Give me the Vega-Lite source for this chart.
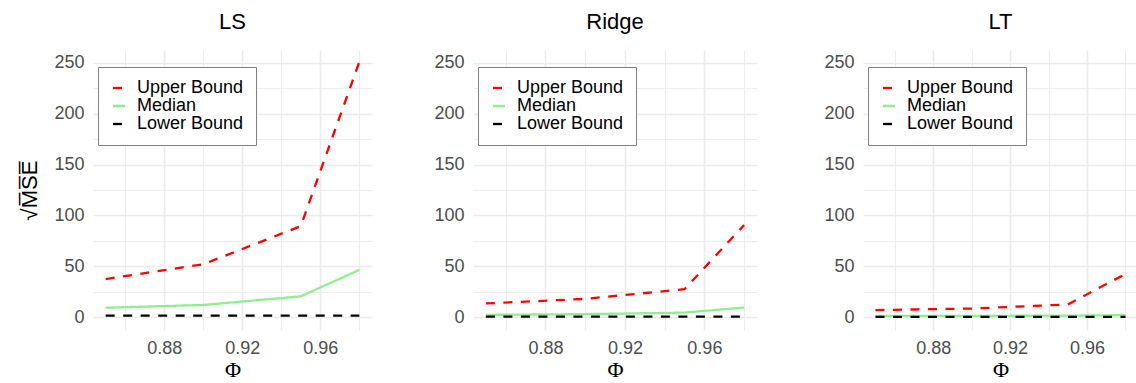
{
  "$schema": "https://vega.github.io/schema/vega-lite/v6.json",
  "background": "white",
  "padding": {"left": 18, "top": 11, "right": 0, "bottom": 0},
  "autosize": {"type": "pad"},
  "config": {
    "font": "Liberation Sans",
    "view": {"stroke": null},
    "axis": {"domain": false, "ticks": false, "gridColor": "#EBEBEB", "labelColor": "#4D4D4D", "labelFontSize": 18, "labelFont": "Liberation Sans", "titleColor": "black", "titleFontWeight": "normal"},
    "title": {"fontSize": 22, "fontWeight": "normal", "color": "black", "font": "Liberation Sans", "offset": 16, "anchor": "middle"},
    "concat": {"spacing": 61},
    "legend": {"title": null, "orient": "none", "legendX": 5, "legendY": 17, "padding": 12, "strokeColor": "#808080", "fillColor": "white", "labelFontSize": 18, "labelColor": "black", "labelFont": "Liberation Sans", "symbolType": "stroke", "symbolSize": 144, "symbolStrokeWidth": 2.3, "rowPadding": -3, "labelOffset": 9, "cornerRadius": 0}
  },
  "data": {"values": [
    {"panel": "LS", "series": "Upper Bound", "phi": 0.85, "value": 37.5},
    {"panel": "LS", "series": "Upper Bound", "phi": 0.90, "value": 52},
    {"panel": "LS", "series": "Upper Bound", "phi": 0.95, "value": 89.5},
    {"panel": "LS", "series": "Upper Bound", "phi": 0.98, "value": 251},
    {"panel": "LS", "series": "Median", "phi": 0.85, "value": 9.3},
    {"panel": "LS", "series": "Median", "phi": 0.90, "value": 12},
    {"panel": "LS", "series": "Median", "phi": 0.95, "value": 20.5},
    {"panel": "LS", "series": "Median", "phi": 0.98, "value": 46.5},
    {"panel": "LS", "series": "Lower Bound", "phi": 0.85, "value": 1.5},
    {"panel": "LS", "series": "Lower Bound", "phi": 0.90, "value": 1.5},
    {"panel": "LS", "series": "Lower Bound", "phi": 0.95, "value": 1.5},
    {"panel": "LS", "series": "Lower Bound", "phi": 0.98, "value": 1.5},
    {"panel": "Ridge", "series": "Upper Bound", "phi": 0.85, "value": 13.5},
    {"panel": "Ridge", "series": "Upper Bound", "phi": 0.90, "value": 18},
    {"panel": "Ridge", "series": "Upper Bound", "phi": 0.95, "value": 27.5},
    {"panel": "Ridge", "series": "Upper Bound", "phi": 0.98, "value": 90.5},
    {"panel": "Ridge", "series": "Median", "phi": 0.85, "value": 2.3},
    {"panel": "Ridge", "series": "Median", "phi": 0.90, "value": 3},
    {"panel": "Ridge", "series": "Median", "phi": 0.95, "value": 4.5},
    {"panel": "Ridge", "series": "Median", "phi": 0.98, "value": 9.5},
    {"panel": "Ridge", "series": "Lower Bound", "phi": 0.85, "value": 0.5},
    {"panel": "Ridge", "series": "Lower Bound", "phi": 0.90, "value": 0.5},
    {"panel": "Ridge", "series": "Lower Bound", "phi": 0.95, "value": 0.5},
    {"panel": "Ridge", "series": "Lower Bound", "phi": 0.98, "value": 0.5},
    {"panel": "LT", "series": "Upper Bound", "phi": 0.85, "value": 7},
    {"panel": "LT", "series": "Upper Bound", "phi": 0.90, "value": 8.5},
    {"panel": "LT", "series": "Upper Bound", "phi": 0.95, "value": 12.5},
    {"panel": "LT", "series": "Upper Bound", "phi": 0.98, "value": 42.5},
    {"panel": "LT", "series": "Median", "phi": 0.85, "value": 1.2},
    {"panel": "LT", "series": "Median", "phi": 0.90, "value": 1.3},
    {"panel": "LT", "series": "Median", "phi": 0.95, "value": 1.5},
    {"panel": "LT", "series": "Median", "phi": 0.98, "value": 2},
    {"panel": "LT", "series": "Lower Bound", "phi": 0.85, "value": 0.3},
    {"panel": "LT", "series": "Lower Bound", "phi": 0.90, "value": 0.3},
    {"panel": "LT", "series": "Lower Bound", "phi": 0.95, "value": 0.3},
    {"panel": "LT", "series": "Lower Bound", "phi": 0.98, "value": 0.3}
  ]},
  "resolve": {"legend": {"color": "independent", "strokeDash": "independent"}, "scale": {"color": "independent", "strokeDash": "independent", "x": "independent", "y": "independent"}},
  "hconcat": [
    {
      "width": 279, "height": 280,
      "title": "LS",
      "transform": [{"filter": "datum.panel === 'LS'"}],
      "mark": {"type": "line", "strokeWidth": 2.3, "clip": true},
      "encoding": {
        "x": {"field": "phi", "type": "quantitative", "scale": {"domain": [0.8435, 0.9865], "nice": false, "zero": false},
          "axis": {"title": "Φ", "titleFont": "Liberation Serif", "titleFontSize": 22, "titlePadding": 2, "labelPadding": 9, "values": [0.86, 0.88, 0.90, 0.92, 0.94, 0.96, 0.98], "labelExpr": "round(datum.value*100) % 4 === 0 ? format(datum.value, '.2f') : ''", "gridWidth": {"condition": {"test": "round(datum.value*100) % 4 === 0", "value": 1.6}, "value": 0.9}}},
        "y": {"field": "value", "type": "quantitative", "scale": {"domain": [-12.6, 262.6], "nice": false, "zero": false},
          "axis": {"title": "√M̅S̅E̅", "titleFontSize": 22, "titlePadding": 10, "labelPadding": 9, "minExtent": 42, "maxExtent": 42, "values": [0, 25, 50, 75, 100, 125, 150, 175, 200, 225, 250], "labelExpr": "datum.value % 50 === 0 ? datum.label : ''", "gridWidth": {"condition": {"test": "datum.value % 50 === 0", "value": 1.6}, "value": 0.9}}},
        "color": {"field": "series", "type": "nominal", "scale": {"domain": ["Upper Bound", "Median", "Lower Bound"], "range": ["#FF0000", "#90EE90", "#000000"]}},
        "strokeDash": {"field": "series", "type": "nominal", "scale": {"domain": ["Upper Bound", "Median", "Lower Bound"], "range": [[9, 8.5], [1, 0], [9, 8.5]]}}
      }
    },
    {
      "width": 284, "height": 280,
      "title": "Ridge",
      "transform": [{"filter": "datum.panel === 'Ridge'"}],
      "mark": {"type": "line", "strokeWidth": 2.3, "clip": true},
      "encoding": {
        "x": {"field": "phi", "type": "quantitative", "scale": {"domain": [0.8435, 0.9865], "nice": false, "zero": false},
          "axis": {"title": "Φ", "titleFont": "Liberation Serif", "titleFontSize": 22, "titlePadding": 2, "labelPadding": 9, "values": [0.86, 0.88, 0.90, 0.92, 0.94, 0.96, 0.98], "labelExpr": "round(datum.value*100) % 4 === 0 ? format(datum.value, '.2f') : ''", "gridWidth": {"condition": {"test": "round(datum.value*100) % 4 === 0", "value": 1.6}, "value": 0.9}}},
        "y": {"field": "value", "type": "quantitative", "scale": {"domain": [-12.6, 262.6], "nice": false, "zero": false},
          "axis": {"title": null, "labelPadding": 9, "minExtent": 39, "maxExtent": 39, "values": [0, 25, 50, 75, 100, 125, 150, 175, 200, 225, 250], "labelExpr": "datum.value % 50 === 0 ? datum.label : ''", "gridWidth": {"condition": {"test": "datum.value % 50 === 0", "value": 1.6}, "value": 0.9}}},
        "color": {"field": "series", "type": "nominal", "scale": {"domain": ["Upper Bound", "Median", "Lower Bound"], "range": ["#FF0000", "#90EE90", "#000000"]}},
        "strokeDash": {"field": "series", "type": "nominal", "scale": {"domain": ["Upper Bound", "Median", "Lower Bound"], "range": [[9, 8.5], [1, 0], [9, 8.5]]}}
      }
    },
    {
      "width": 275, "height": 280,
      "title": "LT",
      "transform": [{"filter": "datum.panel === 'LT'"}],
      "mark": {"type": "line", "strokeWidth": 2.3, "clip": true},
      "encoding": {
        "x": {"field": "phi", "type": "quantitative", "scale": {"domain": [0.8435, 0.9865], "nice": false, "zero": false},
          "axis": {"title": "Φ", "titleFont": "Liberation Serif", "titleFontSize": 22, "titlePadding": 2, "labelPadding": 9, "values": [0.86, 0.88, 0.90, 0.92, 0.94, 0.96, 0.98], "labelExpr": "round(datum.value*100) % 4 === 0 ? format(datum.value, '.2f') : ''", "gridWidth": {"condition": {"test": "round(datum.value*100) % 4 === 0", "value": 1.6}, "value": 0.9}}},
        "y": {"field": "value", "type": "quantitative", "scale": {"domain": [-12.6, 262.6], "nice": false, "zero": false},
          "axis": {"title": null, "labelPadding": 9, "minExtent": 45, "maxExtent": 45, "values": [0, 25, 50, 75, 100, 125, 150, 175, 200, 225, 250], "labelExpr": "datum.value % 50 === 0 ? datum.label : ''", "gridWidth": {"condition": {"test": "datum.value % 50 === 0", "value": 1.6}, "value": 0.9}}},
        "color": {"field": "series", "type": "nominal", "scale": {"domain": ["Upper Bound", "Median", "Lower Bound"], "range": ["#FF0000", "#90EE90", "#000000"]}},
        "strokeDash": {"field": "series", "type": "nominal", "scale": {"domain": ["Upper Bound", "Median", "Lower Bound"], "range": [[9, 8.5], [1, 0], [9, 8.5]]}}
      }
    }
  ]
}
